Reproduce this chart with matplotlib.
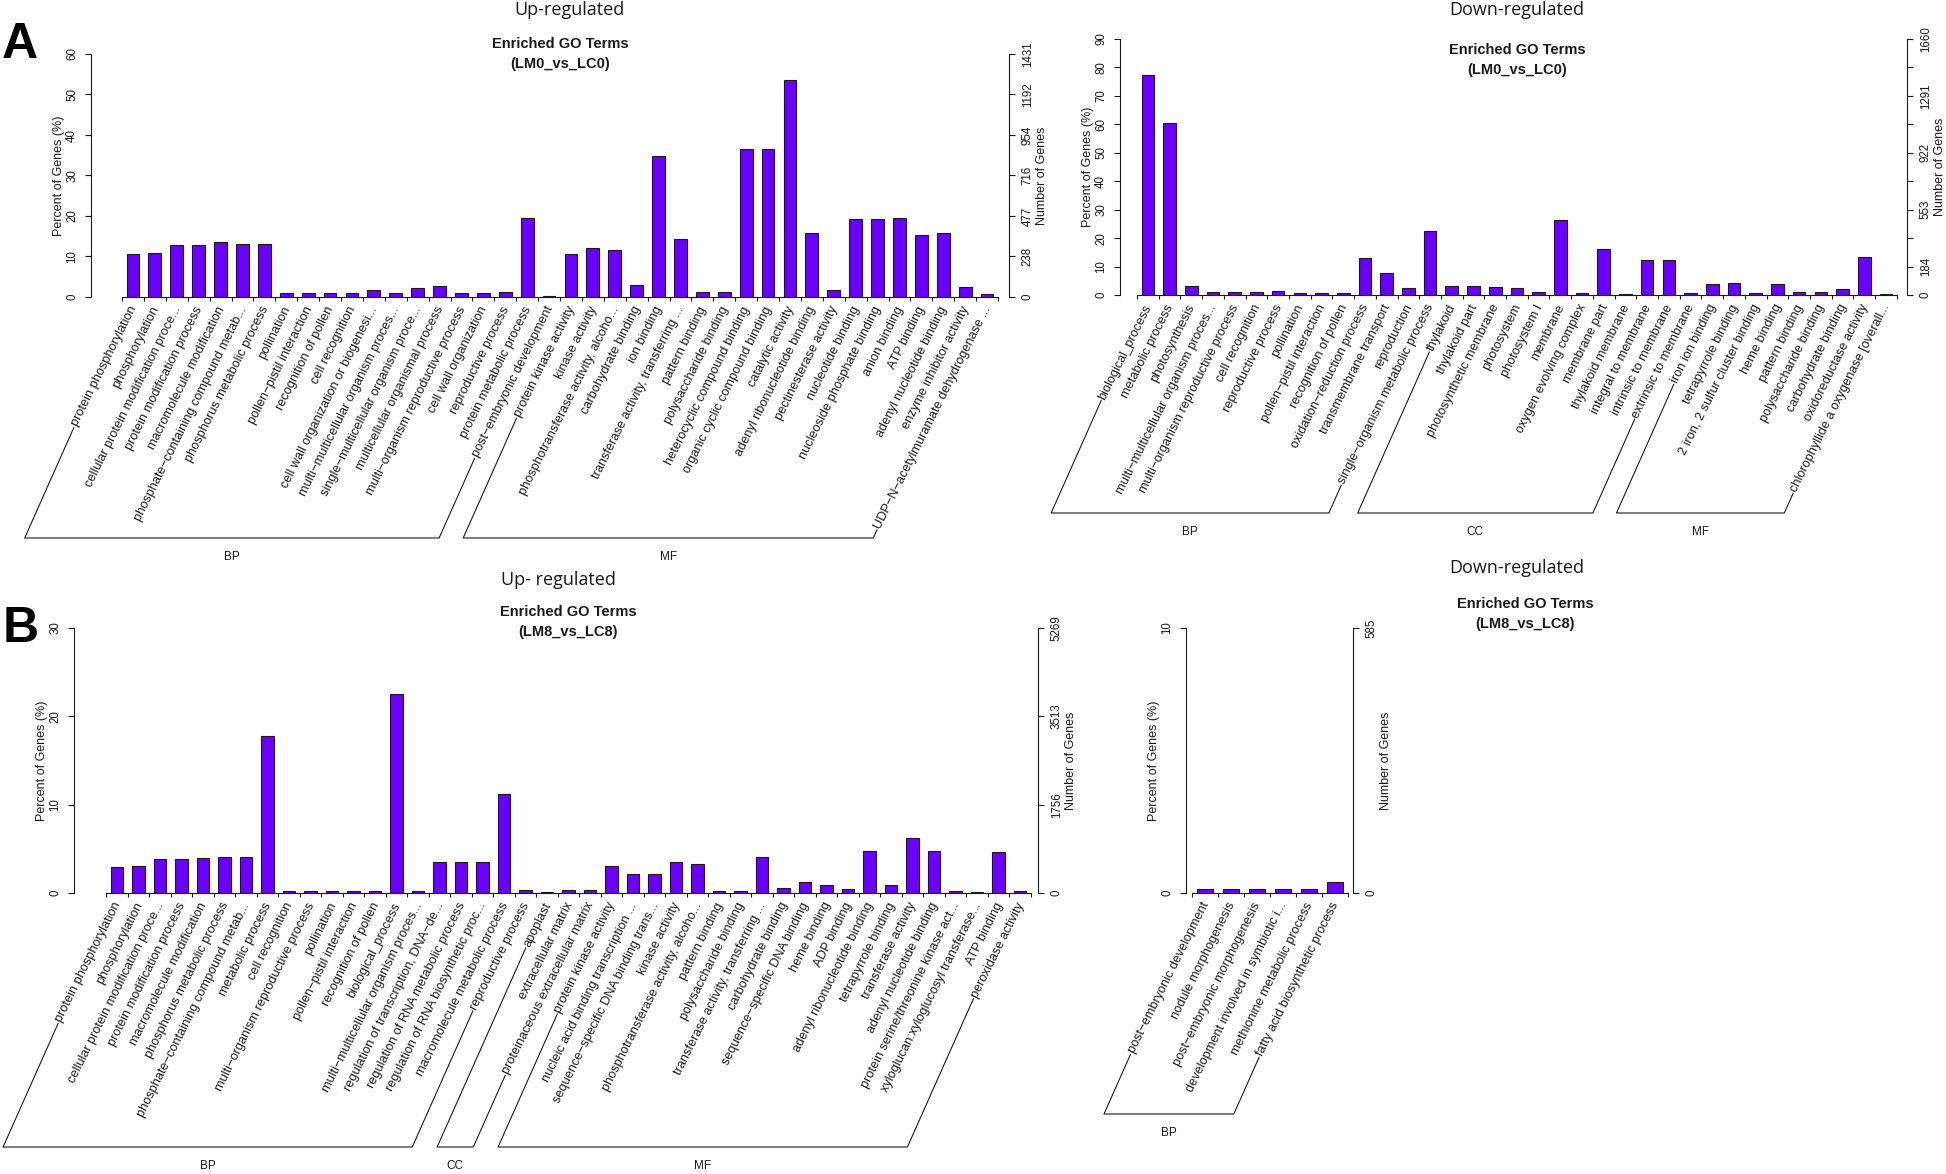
"""Enriched GO term bar charts (up/down-regulated, LM0 vs LC0 and LM8 vs LC8)."""

import matplotlib
matplotlib.use("Agg")
import matplotlib.pyplot as plt
import matplotlib.transforms as mtransforms
from matplotlib.lines import Line2D
import numpy as np

# ---- data ---------------------------------------------------------------
# A, up-regulated (LM0_vs_LC0)
al_terms = [
    "protein phosphorylation", "phosphorylation", "cellular protein modification proce...",
    "protein modification process", "macromolecule modification",
    "phosphate−containing compound metab...", "phosphorus metabolic process", "pollination",
    "pollen−pistil interaction", "recognition of pollen", "cell recognition",
    "cell wall organization or biogenesi...", "multi−multicellular organism proces...",
    "single−multicellular organism proce...", "multicellular organismal process",
    "multi−organism reproductive process", "cell wall organization", "reproductive process",
    "protein metabolic process", "post−embryonic development",
    "protein kinase activity", "kinase activity", "phosphotransferase activity, alcoho...",
    "carbohydrate binding", "ion binding", "transferase activity, transferring ...",
    "pattern binding", "polysaccharide binding", "heterocyclic compound binding",
    "organic cyclic compound binding", "catalytic activity", "adenyl ribonucleotide binding",
    "pectinesterase activity", "nucleotide binding", "nucleoside phosphate binding",
    "anion binding", "ATP binding", "adenyl nucleotide binding", "enzyme inhibitor activity",
    "UDP−N−acetylmuramate dehydrogenase ...",
]
al_pct = [10.5, 10.8, 12.8, 12.8, 13.5, 13.1, 13.1, 0.9, 0.9, 0.9,
          0.9, 1.8, 0.9, 2.3, 2.6, 0.9, 1.1, 1.2, 19.5, 0.3,
          10.7, 12.2, 11.7, 2.9, 34.8, 14.2, 1.3, 1.3, 36.6, 36.6,
          53.7, 15.7, 1.8, 19.2, 19.2, 19.4, 15.4, 15.9, 2.4, 0.8]
al_groups = ["BP", "MF"]
al_sizes = [20, 20]
al_ticks = [0, 10, 20, 30, 40, 50, 60]
al_tick_labels = ["0", "10", "20", "30", "40", "50", "60"]
al_gene_labels = ["0", "238", "477", "716", "954", "1192", "1431"]

# A, down-regulated (LM0_vs_LC0)
ar_terms = [
    "biological_process", "metabolic process", "photosynthesis",
    "multi−multicellular organism proces...", "multi−organism reproductive process",
    "cell recognition", "reproductive process", "pollination", "pollen−pistil interaction",
    "recognition of pollen", "oxidation−reduction process", "transmembrane transport",
    "reproduction", "single−organism metabolic process",
    "thylakoid", "thylakoid part", "photosynthetic membrane", "photosystem", "photosystem I",
    "membrane", "oxygen evolving complex", "membrane part", "thylakoid membrane",
    "integral to membrane", "intrinsic to membrane", "extrinsic to membrane",
    "iron ion binding", "tetrapyrrole binding", "2 iron, 2 sulfur cluster binding",
    "heme binding", "pattern binding", "polysaccharide binding", "carbohydrate binding",
    "oxidoreductase activity", "chlorophyllide a oxygenase [overall...",
]
ar_pct = [77.3, 60.3, 3.3, 0.9, 1.2, 0.9, 1.4, 0.8, 0.8, 0.8, 13.0, 7.9, 2.3, 22.5,
          3.0, 3.0, 2.7, 2.5, 1.1, 26.3, 0.8, 16.3, 0.5, 12.2, 12.2, 0.8,
          4.0, 4.2, 0.8, 4.0, 1.2, 1.2, 2.2, 13.5, 0.2]
ar_groups = ["BP", "CC", "MF"]
ar_sizes = [14, 12, 9]
ar_ticks = [0, 10, 20, 30, 40, 50, 60, 70, 80, 90]
ar_tick_labels = ["0", "10", "20", "30", "40", "50", "60", "70", "80", "90"]
ar_gene_labels = ["0", "184", "", "553", "", "922", "", "1291", "", "1660"]

# B, up-regulated (LM8_vs_LC8)
bl_terms = [
    "protein phosphorylation", "phosphorylation", "cellular protein modification proce...",
    "protein modification process", "macromolecule modification",
    "phosphorus metabolic process", "phosphate−containing compound metab...",
    "metabolic process", "cell recognition", "multi−organism reproductive process",
    "pollination", "pollen−pistil interaction", "recognition of pollen", "biological_process",
    "multi−multicellular organism proces...", "regulation of transcription, DNA−de...",
    "regulation of RNA metabolic process", "regulation of RNA biosynthetic proc...",
    "macromolecule metabolic process", "reproductive process",
    "apoplast", "extracellular matrix", "proteinaceous extracellular matrix",
    "protein kinase activity", "nucleic acid binding transcription ...",
    "sequence−specific DNA binding trans...", "kinase activity",
    "phosphotransferase activity, alcoho...", "pattern binding", "polysaccharide binding",
    "transferase activity, transferring ...", "carbohydrate binding",
    "sequence−specific DNA binding", "heme binding", "ADP binding",
    "adenyl ribonucleotide binding", "tetrapyrrole binding", "transferase activity",
    "adenyl nucleotide binding", "protein serine/threonine kinase act...",
    "xyloglucan:xyloglucosyl transferase...", "ATP binding", "peroxidase activity",
]
bl_pct = [3.0, 3.1, 3.8, 3.8, 4.0, 4.1, 4.1, 17.8, 0.26, 0.26,
          0.23, 0.23, 0.23, 22.5, 0.23, 3.5, 3.5, 3.5, 11.2, 0.34,
          0.08, 0.38, 0.34,
          3.06, 2.1, 2.1, 3.5, 3.3, 0.23, 0.23, 4.1, 0.57, 1.25,
          0.94, 0.45, 4.75, 0.94, 6.2, 4.8, 0.26, 0.08, 4.6, 0.26]
bl_groups = ["BP", "CC", "MF"]
bl_sizes = [20, 3, 20]
bl_ticks = [0, 10, 20, 30]
bl_tick_labels = ["0", "10", "20", "30"]
bl_gene_labels = ["0", "1756", "3513", "5269"]

# B, down-regulated (LM8_vs_LC8)
br_terms = [
    "post−embryonic development", "nodule morphogenesis", "post−embryonic morphogenesis",
    "development involved in symbiotic i...", "methionine metabolic process",
    "fatty acid biosynthetic process",
]
br_pct = [0.15, 0.15, 0.15, 0.15, 0.15, 0.4]
br_groups = ["BP"]
br_sizes = [6]
br_ticks = [0, 10]
br_tick_labels = ["0", "10"]
br_gene_labels = ["0", "585"]

# ---- layout (pixels from the top-left corner) ---------------------------
W, H, DPI = 1946, 1174, 100
BAR_COLOR = "#6a00ff"
INK = "#1a1a1a"
LABEL_ANGLE = 63.5
BRACKET_ANGLE = 66.0
SANS = ["Liberation Sans", "DejaVu Sans"]
NARROW = ["Liberation Sans Narrow", "Liberation Sans", "DejaVu Sans"]
TITLE_FONT = ["Open Sans", "DejaVu Sans"]

# bracket = y of the BP/CC/MF bracket line
AL_GEOM = dict(left=91, right=1009, top=54, base=297, first=122, slot=21.9, bracket=538)
AR_GEOM = dict(left=1120, right=1907, top=39, base=295, first=1137, slot=21.71, bracket=513)
BL_GEOM = dict(left=74, right=1038, top=628, base=893, first=106.4, slot=21.5, bracket=1147)
BR_GEOM = dict(left=1186, right=1353, top=628, base=893, first=1192, slot=26.0, bracket=1114)

plt.rcParams["font.family"] = SANS

fig = plt.figure(figsize=(W / DPI, H / DPI), dpi=DPI)
fig.patch.set_facecolor("white")
renderer = fig.canvas.get_renderer()


def fig_xy(x, y_top):
    """Pixel position (y measured from top) -> figure fraction."""
    return x / W, 1 - y_top / H


def go_panel(geom, terms, pct, groups, sizes, ticks, tick_labels, gene_labels):
    left, right, top, base = geom["left"], geom["right"], geom["top"], geom["base"]
    first, slot = geom["first"], geom["slot"]
    ax = fig.add_axes([left / W, 1 - base / H, (right - left) / W, (base - top) / H])
    ax.patch.set_visible(False)
    n = len(terms)
    ax.set_xlim((left - first) / slot, (right - first) / slot)
    ax.set_ylim(ticks[0], ticks[-1])

    xs = np.arange(n) + 0.5
    ax.bar(xs, pct, width=0.58, color=BAR_COLOR, edgecolor=INK, linewidth=0.8, zorder=3)

    for side in ("top", "right"):
        ax.spines[side].set_visible(False)
    ax.spines["left"].set_bounds(ticks[0], ticks[-1])
    ax.spines["bottom"].set_bounds(0, n)
    for side in ("left", "bottom"):
        ax.spines[side].set_linewidth(0.8)
        ax.spines[side].set_color(INK)

    ax.set_xticks(np.arange(n + 1))
    ax.set_xticklabels([])
    ax.tick_params(axis="x", length=3.2, width=0.8, color=INK)
    ax.set_yticks(ticks)
    ax.set_yticklabels(tick_labels)
    ax.tick_params(axis="y", length=4.3, width=0.8, pad=5, labelsize=8.3,
                   labelrotation=90, color=INK, labelcolor=INK)
    for t in ax.yaxis.get_major_ticks():
        t.label1.set_va("center")

    ax2 = ax.twinx()
    ax2.set_ylim(ax.get_ylim())
    for side in ("top", "left", "bottom"):
        ax2.spines[side].set_visible(False)
    ax2.spines["right"].set_bounds(ticks[0], ticks[-1])
    ax2.spines["right"].set_linewidth(0.8)
    ax2.spines["right"].set_color(INK)
    ax2.set_yticks(ticks)
    ax2.set_yticklabels(gene_labels)
    ax2.tick_params(axis="y", length=4.3, width=0.8, pad=5, labelsize=8.3,
                    labelrotation=90, color=INK, labelcolor=INK)
    for t in ax2.yaxis.get_major_ticks():
        t.label2.set_va("center")

    mid = (top + base) / 2
    fig.text(*fig_xy(left - 32, mid), "Percent of Genes (%)", rotation=90,
             ha="center", va="center", fontsize=9, color=INK)
    fig.text(*fig_xy(right + 33, mid), "Number of Genes", rotation=90,
             ha="center", va="center", fontsize=9, color=INK)

    # slanted term labels, ending just under each bar
    trans = mtransforms.offset_copy(ax.transData, fig=fig, x=1, y=-10, units="dots")
    cos_a, sin_a = np.cos(np.radians(LABEL_ANGLE)), np.sin(np.radians(LABEL_ANGLE))
    starts = []
    for x, term in zip(xs, terms):
        t = ax.text(x, 0, term, transform=trans, rotation=LABEL_ANGLE,
                    rotation_mode="anchor", ha="right", va="center",
                    fontsize=9.2, color=INK)
        w = renderer.get_text_width_height_descent(term, t.get_fontproperties(),
                                                    ismath=False)[0]
        ax_x, ax_y = trans.transform((x, 0))
        starts.append((ax_x - (w + 2) * cos_a, ax_y - (w + 2) * sin_a))

    # category brackets (BP / CC / MF)
    y_b = H - geom["bracket"]
    tan_b = np.tan(np.radians(BRACKET_ANGLE))
    k = 0
    for name, size in zip(groups, sizes):
        s1, s2 = starts[k], starts[k + size - 1]
        c1 = s1[0] - (s1[1] - y_b) / tan_b
        c2 = s2[0] - (s2[1] - y_b) / tan_b
        lx = np.array([s1[0], c1, c2, s2[0]]) / W
        ly = np.array([s1[1], y_b, y_b, s2[1]]) / H
        fig.add_artist(Line2D(lx, ly, transform=fig.transFigure, color=INK, lw=0.8))
        fig.text((c1 + c2) / 2 / W, (y_b - 19) / H, name, ha="center", va="center",
                 fontsize=8.5, color=INK)
        k += size
    return ax


def titles(x, y_main, main, y_sub, sub_x, tag):
    fig.text(*fig_xy(x, y_main), main, ha="center", va="center", fontsize=13,
             family=TITLE_FONT, color=INK)
    fig.text(*fig_xy(sub_x, y_sub), "Enriched GO Terms", ha="center", va="center",
             fontsize=10.5, fontweight="bold", family=NARROW, color=INK)
    fig.text(*fig_xy(sub_x, y_sub + 20), tag, ha="center", va="center",
             fontsize=10.5, fontweight="bold", family=NARROW, color=INK)


go_panel(AL_GEOM, al_terms, al_pct, al_groups, al_sizes, al_ticks, al_tick_labels, al_gene_labels)
go_panel(AR_GEOM, ar_terms, ar_pct, ar_groups, ar_sizes, ar_ticks, ar_tick_labels, ar_gene_labels)
go_panel(BL_GEOM, bl_terms, bl_pct, bl_groups, bl_sizes, bl_ticks, bl_tick_labels, bl_gene_labels)
go_panel(BR_GEOM, br_terms, br_pct, br_groups, br_sizes, br_ticks, br_tick_labels, br_gene_labels)

titles(569, 10, "Up-regulated", 44, 560, "(LM0_vs_LC0)")
titles(1517, 10, "Down-regulated", 50, 1517, "(LM0_vs_LC0)")
titles(558, 580, "Up- regulated", 612, 568, "(LM8_vs_LC8)")
titles(1517, 568, "Down-regulated", 604, 1525, "(LM8_vs_LC8)")

fig.text(*fig_xy(2, 58), "A", fontsize=36, fontweight="bold", va="baseline", color="black")
fig.text(*fig_xy(3, 642), "B", fontsize=36, fontweight="bold", va="baseline", color="black")

fig.savefig("out.png", dpi=DPI, facecolor="white")
